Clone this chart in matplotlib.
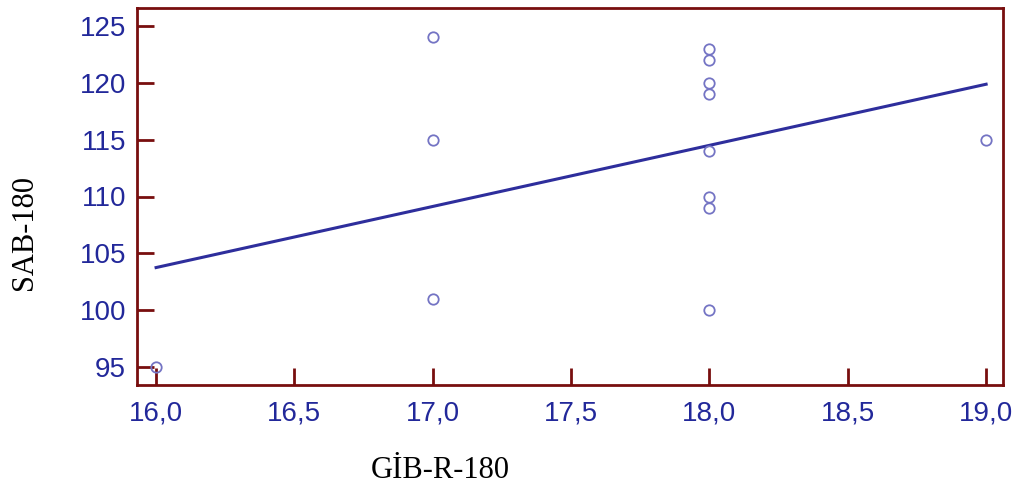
import numpy as np
import matplotlib
matplotlib.use("Agg")
import matplotlib.pyplot as plt
from matplotlib.ticker import FuncFormatter

# Data
gib_r_180 = [16, 17, 17, 17, 18, 18, 18, 18, 18, 18, 18, 18, 19]
sab_180 = [95, 124, 115, 101, 123, 122, 120, 119, 114, 110, 109, 100, 115]
x_ticks = [16.0, 16.5, 17.0, 17.5, 18.0, 18.5, 19.0]
y_ticks = [95, 100, 105, 110, 115, 120, 125]

frame_col = "#780e0e"
text_col = "#22289a"

fig = plt.figure(figsize=(10.27, 4.91), dpi=100)
W, H = 1027, 491
ax = fig.add_axes([137 / W, 1 - 385 / H, (1003 - 137) / W, (385 - 8) / H])

x = np.array(gib_r_180, dtype=float)
y = np.array(sab_180, dtype=float)
slope, intercept = np.polyfit(x, y, 1)
xl = np.array([x.min(), x.max()])
ax.plot(xl, slope * xl + intercept, color="#2e2e9c", lw=2.2, zorder=2)

ax.plot(x, y, linestyle="none", marker="o", markersize=7.5,
        markerfacecolor="none", markeredgecolor="#7474c4", markeredgewidth=1.3, zorder=3)

ax.set_xlim(15.931, 19.061)
ax.set_ylim(93.42, 126.58)
ax.set_xticks(x_ticks)
ax.set_yticks(y_ticks)
ax.xaxis.set_major_formatter(FuncFormatter(lambda v, p: f"{v:.1f}".replace(".", ",")))

for s in ax.spines.values():
    s.set_color(frame_col)
    s.set_linewidth(2.0)

ax.tick_params(axis="both", direction="in", length=12, width=2.0, color=frame_col,
               labelcolor=text_col, labelsize=20)
ax.tick_params(axis="x", pad=11)
ax.tick_params(axis="y", pad=8)
for lab in ax.get_xticklabels() + ax.get_yticklabels():
    lab.set_fontfamily("Liberation Sans")

fig.text(24 / W, 1 - 233 / H, "SAB-180", rotation=90, ha="center", va="center",
         fontsize=22, family="Liberation Serif", color="black")
fig.text(440 / W, 1 - 470 / H, "GİB-R-180", ha="center", va="center",
         fontsize=22, family="Liberation Serif", color="black")

fig.savefig("out.png", dpi=100)
